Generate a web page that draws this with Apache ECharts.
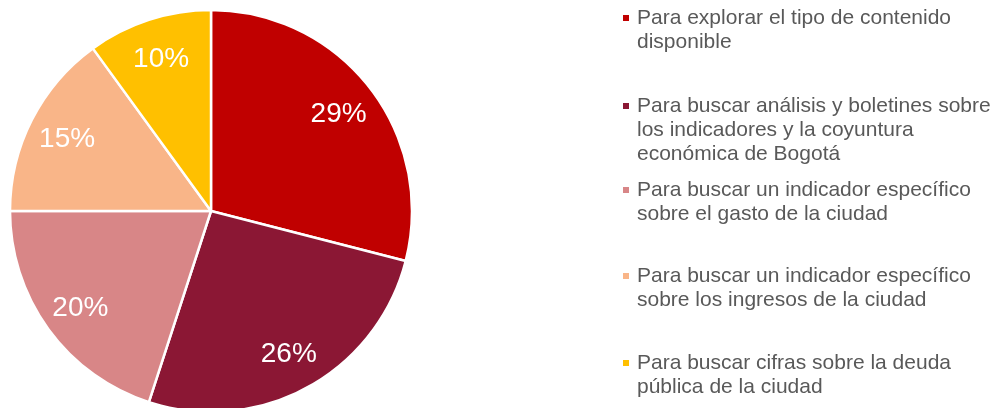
<!DOCTYPE html>
<html>
<head>
<meta charset="utf-8">
<script src="https://cdn.jsdelivr.net/npm/echarts@6/dist/echarts.min.js"></script>
<style>
  html, body { margin: 0; padding: 0; background: #fff; }
  #chart { width: 997px; height: 408px; }
</style>
</head>
<body>
<div id="chart"></div>
<script>
// categorias (con saltos de linea como en la leyenda)
var categories = [
  'Para explorar el tipo de contenido\ndisponible',
  'Para buscar análisis y boletines sobre\nlos indicadores y la coyuntura\neconómica de Bogotá',
  'Para buscar un indicador específico\nsobre el gasto de la ciudad',
  'Para buscar un indicador específico\nsobre los ingresos de la ciudad',
  'Para buscar cifras sobre la deuda\npública de la ciudad'
];
var values = [29, 26, 20, 15, 10];
var colors = ['#C00000', '#8B1734', '#D88687', '#F9B588', '#FFC000'];

var legendTops = [1, 89, 173, 259, 346]; // posicion de cada item de leyenda

var chart = echarts.init(document.getElementById('chart'));

var pieData = categories.map(function (c, i) {
  return { name: c, value: values[i], itemStyle: { color: colors[i] } };
});

// estilos rich para el marcador de cada item
var rich = {
  t: { color: '#595959', fontSize: 21, lineHeight: 24, fontFamily: 'Liberation Sans, Arial, sans-serif' },
  g: { width: 8, height: 6 },
  s: { width: 14, height: 6 }
};
colors.forEach(function (c, i) {
  rich['m' + i] = { width: 6, height: 6, backgroundColor: c, verticalAlign: 'middle' };
});

var legends = categories.map(function (c, i) {
  return {
    data: [c],
    orient: 'vertical',
    left: 613,
    top: legendTops[i],
    icon: 'none',
    itemWidth: 0,
    itemHeight: 6,
    selectedMode: false,
    textStyle: { rich: rich, lineHeight: 24 },
    formatter: function (name) {
      var idx = categories.indexOf(name);
      var lines = name.split('\n');
      return lines.map(function (l, k) {
        return (k === 0 ? '{m' + idx + '|}{g|}' : '{s|}') + '{t|' + l + '}';
      }).join('\n');
    }
  };
});

var option = {
  animation: false,
  legend: legends,
  series: [
    {
      type: 'pie',
      center: [211, 211],
      radius: [0, 201],
      startAngle: 90,
      clockwise: true,
      silent: true,
      label: { show: false },
      labelLine: { show: false },
      itemStyle: { borderColor: '#fff', borderWidth: 2.5 },
      data: pieData
    },
    {
      // capa transparente solo para ubicar las etiquetas
      type: 'pie',
      center: [211, 213],
      radius: [116, 201],
      startAngle: 90,
      clockwise: true,
      silent: true,
      itemStyle: { color: 'rgba(0,0,0,0)', borderWidth: 0 },
      label: {
        show: true,
        position: 'inside',
        formatter: '{c}%',
        color: '#fff',
        fontSize: 28,
        fontFamily: 'Liberation Sans, Arial, sans-serif'
      },
      labelLine: { show: false },
      data: categories.map(function (c, i) { return { name: c, value: values[i] }; })
    }
  ]
};
chart.setOption(option);
</script>
</body>
</html>
